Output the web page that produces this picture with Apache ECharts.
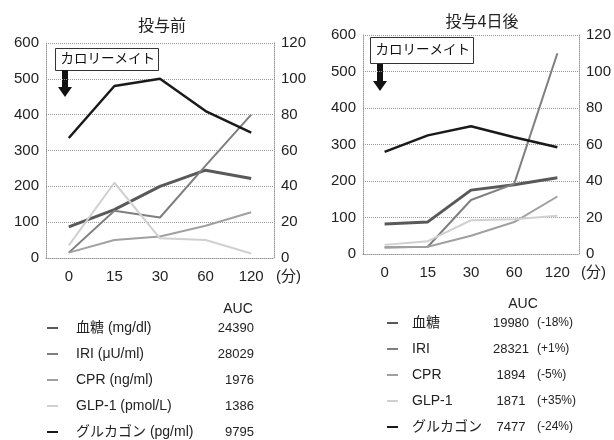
<!DOCTYPE html>
<html>
<head>
<meta charset="utf-8">
<script src="https://cdn.jsdelivr.net/npm/echarts@6/dist/echarts.min.js"></script>
<style>
html, body { margin: 0; padding: 0; background: #fff; }
#main { width: 614px; height: 440px; }
</style>
</head>
<body>
<div id="main"></div>
<script>
// 時間（分）
var times = ['0', '15', '30', '60', '120'];

// 投与前
var preGlucose  = [87, 135, 200, 245, 222];   // 左軸
var preIRI      = [15, 132, 113, 258, 400];   // 左軸
var preCPR      = [3, 10, 12, 18, 25.5];      // 右軸
var preGLP1     = [7, 42, 11, 10, 2.5];       // 右軸
var preGlucagon = [67, 96, 100, 82, 70];      // 右軸

// 投与4日後
var postGlucose  = [82, 88, 175, 190, 209];
var postIRI      = [18, 20, 148, 192, 550];
var postCPR      = [3.7, 4, 10, 17.5, 31.5];
var postGLP1     = [5, 7, 18.5, 19, 21];
var postGlucagon = [56, 65, 70, 64, 58.5];

// 凡例
var preNames  = ['血糖 (mg/dl)', 'IRI (μU/ml)', 'CPR (ng/ml)', 'GLP-1 (pmol/L)', 'グルカゴン (pg/ml)'];
var preAUC    = ['24390', '28029', '1976', '1386', '9795'];
var postNames = ['血糖', 'IRI', 'CPR', 'GLP-1', 'グルカゴン'];
var postAUC   = ['19980', '28321', '1894', '1871', '7477'];
var postPct   = ['(-18%)', '(+1%)', '(-5%)', '(+35%)', '(-24%)'];

var leftTicks = [0, 600, 100];
var rightTicks = [0, 120, 20];

var FONT = '"Liberation Sans", "Noto Sans CJK JP", sans-serif';
var colors = ['#595959', '#7f7f7f', '#a0a0a0', '#d0d0d0', '#1a1a1a'];
var widths = [3, 2, 2, 2, 2.5];

var myChart = echarts.init(document.getElementById('main'));

function xAxisFor(gi) {
	return {
		type: 'category',
		gridIndex: gi,
		data: times,
		boundaryGap: true,
		axisTick: { show: false },
		axisLine: { lineStyle: { color: '#999', type: 'dotted', width: 1 } },
		axisLabel: { color: '#222', fontSize: 15, fontFamily: FONT, margin: 11 },
		name: '(分)',
		nameLocation: 'end',
		nameGap: 2,
		nameTextStyle: { color: '#222', fontSize: 15, fontFamily: FONT, verticalAlign: 'top', padding: [11, 0, 0, 0] }
	};
}
function yAxisFor(gi, pos, t, split) {
	return {
		type: 'value',
		gridIndex: gi,
		position: pos,
		min: t[0], max: t[1], interval: t[2],
		axisLine: { show: true, lineStyle: { color: '#999', type: 'dotted', width: 1 } },
		axisTick: { show: false },
		axisLabel: { color: '#222', fontSize: 15, fontFamily: FONT, margin: 7 },
		splitLine: { show: split, lineStyle: { color: '#999', type: 'dotted', width: 1 } }
	};
}
function line(name, data, xi, yi, k) {
	return {
		name: name,
		type: 'line',
		xAxisIndex: xi,
		yAxisIndex: yi,
		data: data,
		symbol: 'none',
		color: colors[k],
		lineStyle: { color: colors[k], width: widths[k] },
		z: k === 4 ? 5 : 3
	};
}
function arrow(x, y) {
	return {
		type: 'polygon',
		shape: { points: [[x - 3, y], [x + 3, y], [x + 3, y + 17], [x + 7, y + 17], [x, y + 27], [x - 7, y + 17], [x - 3, y + 17]] },
		style: { fill: '#111' }
	};
}
function box(x, y, w, h) {
	return {
		type: 'group',
		left: x, top: y,
		children: [
			{ type: 'rect', shape: { x: 0, y: 0, width: w, height: h }, style: { fill: '#fff', stroke: '#333', lineWidth: 1 } },
			{ type: 'text', x: 5, y: h / 2, style: { text: 'カロリーメイト', fill: '#111', fontSize: 13.5, fontFamily: FONT, verticalAlign: 'middle' } }
		]
	};
}

var option = {
	backgroundColor: '#fff',
	animation: false,
	title: [
		{ text: '投与前', left: 157, top: 14, textAlign: 'center', textStyle: { fontSize: 16, fontWeight: 'normal', color: '#222', fontFamily: FONT } },
		{ text: '投与4日後', left: 477, top: 10, textAlign: 'center', textStyle: { fontSize: 16, fontWeight: 'normal', color: '#222', fontFamily: FONT } },
		{ text: 'AUC', left: 233, top: 297, textAlign: 'center', textStyle: { fontSize: 14, fontWeight: 'normal', color: '#222', fontFamily: FONT } },
		{ text: 'AUC', left: 518, top: 292, textAlign: 'center', textStyle: { fontSize: 14, fontWeight: 'normal', color: '#222', fontFamily: FONT } }
	],
	grid: [
		{ left: 46, right: 340, top: 43, bottom: 182 },
		{ left: 363, right: 34, top: 35, bottom: 186 }
	],
	xAxis: [xAxisFor(0), xAxisFor(1)],
	yAxis: [
		yAxisFor(0, 'left', leftTicks, true),
		yAxisFor(0, 'right', rightTicks, false),
		yAxisFor(1, 'left', leftTicks, true),
		yAxisFor(1, 'right', rightTicks, false)
	],
	legend: [
		{
			data: preNames,
			orient: 'vertical',
			left: 47, top: 321, padding: 0,
			icon: 'rect', itemWidth: 11, itemHeight: 2, itemGap: 12,
			selectedMode: false,
			formatter: function (name) {
				var i = preNames.indexOf(name);
				return '{n|' + name + '}{v|' + preAUC[i] + '}';
			},
			textStyle: {
				color: '#222', fontFamily: FONT, fontSize: 14, lineHeight: 14,
				rich: {
					n: { width: 133, padding: [0, 0, 0, 13], fontSize: 14, lineHeight: 14, fontFamily: FONT, color: '#222' },
					v: { width: 45, align: 'right', fontSize: 13, lineHeight: 14, fontFamily: FONT, color: '#222' }
				}
			}
		},
		{
			data: postNames,
			orient: 'vertical',
			left: 387, top: 316, padding: 0,
			icon: 'rect', itemWidth: 11, itemHeight: 2, itemGap: 12,
			selectedMode: false,
			formatter: function (name) {
				var i = postNames.indexOf(name);
				return '{n|' + name + '}{v|' + postAUC[i] + '}{p|' + postPct[i] + '}';
			},
			textStyle: {
				color: '#222', fontFamily: FONT, fontSize: 14, lineHeight: 14,
				rich: {
					n: { width: 76, padding: [0, 0, 0, 9], fontSize: 14, lineHeight: 14, fontFamily: FONT, color: '#222' },
					v: { width: 46, align: 'right', fontSize: 13, lineHeight: 14, fontFamily: FONT, color: '#222' },
					p: { fontSize: 12, lineHeight: 14, padding: [0, 0, 0, 3], fontFamily: FONT, color: '#222' }
				}
			}
		}
	],
	graphic: [
		box(55, 48, 103, 22),
		arrow(65, 70),
		box(370, 37, 103, 26),
		arrow(380, 64)
	],
	series: [
		line(preNames[0], preGlucose, 0, 0, 0),
		line(preNames[1], preIRI, 0, 0, 1),
		line(preNames[2], preCPR, 0, 1, 2),
		line(preNames[3], preGLP1, 0, 1, 3),
		line(preNames[4], preGlucagon, 0, 1, 4),
		line(postNames[0], postGlucose, 1, 2, 0),
		line(postNames[1], postIRI, 1, 2, 1),
		line(postNames[2], postCPR, 1, 3, 2),
		line(postNames[3], postGLP1, 1, 3, 3),
		line(postNames[4], postGlucagon, 1, 3, 4)
	]
};

myChart.setOption(option);
</script>
</body>
</html>
